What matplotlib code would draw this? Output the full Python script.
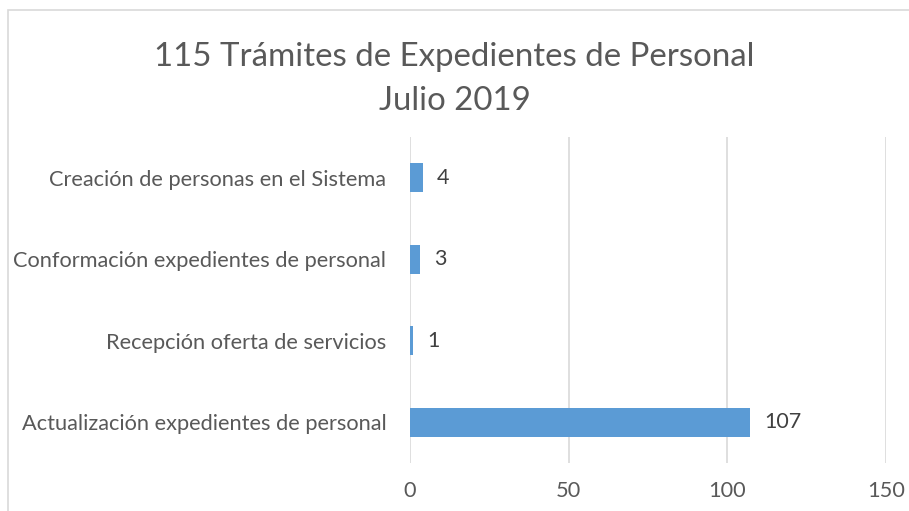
import matplotlib
matplotlib.use("Agg")
import matplotlib.pyplot as plt
from matplotlib.patches import Rectangle

categories = ["Actualización expedientes de personal",
              "Recepción oferta de servicios",
              "Conformación expedientes de personal",
              "Creación de personas en el Sistema"]
values = [107, 1, 3, 4]
xticks = [0, 50, 100, 150]
title = "115 Trámites de Expedientes de Personal\nJulio 2019"

plt.rcParams['font.family'] = ['Lato', 'DejaVu Sans']
txt = '#595959'
grid = '#d9d9d9'
bar_color = '#5b9bd5'

fig = plt.figure(figsize=(9.09, 5.11), dpi=100)
fig.patches.append(Rectangle((8/909, -0.1), 1.2, 1.1 - 10/511, transform=fig.transFigure,
                             facecolor='none', edgecolor=grid, linewidth=1.2))
ax = fig.add_axes([410/909, 1 - 463/511, 476/909, 326/511])
ypos = list(range(len(categories)))
ax.barh(ypos, values, height=0.35, color=bar_color)
for y, v in zip(ypos, values):
    ax.text(v + 4.5, y, str(v), va='center', ha='left', fontsize=15.5, color='#404040')
ax.set_xlim(0, 150)
ax.set_ylim(-0.5, len(categories) - 0.5)
ax.set_xticks(xticks)
ax.set_xticklabels([str(t) for t in xticks])
ax.set_yticks(ypos)
ax.set_yticklabels(categories)
ax.tick_params(axis='both', length=0, labelsize=15.7, labelcolor=txt)
ax.tick_params(axis='y', pad=17)
ax.tick_params(axis='x', pad=13)
for s in ax.spines.values():
    s.set_visible(False)
ax.grid(axis='x', color=grid, linewidth=1.2)
ax.set_axisbelow(True)
fig.text(0.5, 1 - 79/511, title, ha='center', va='center', fontsize=23.8, color=txt,
         linespacing=1.62)
fig.savefig("out.png", dpi=100)
